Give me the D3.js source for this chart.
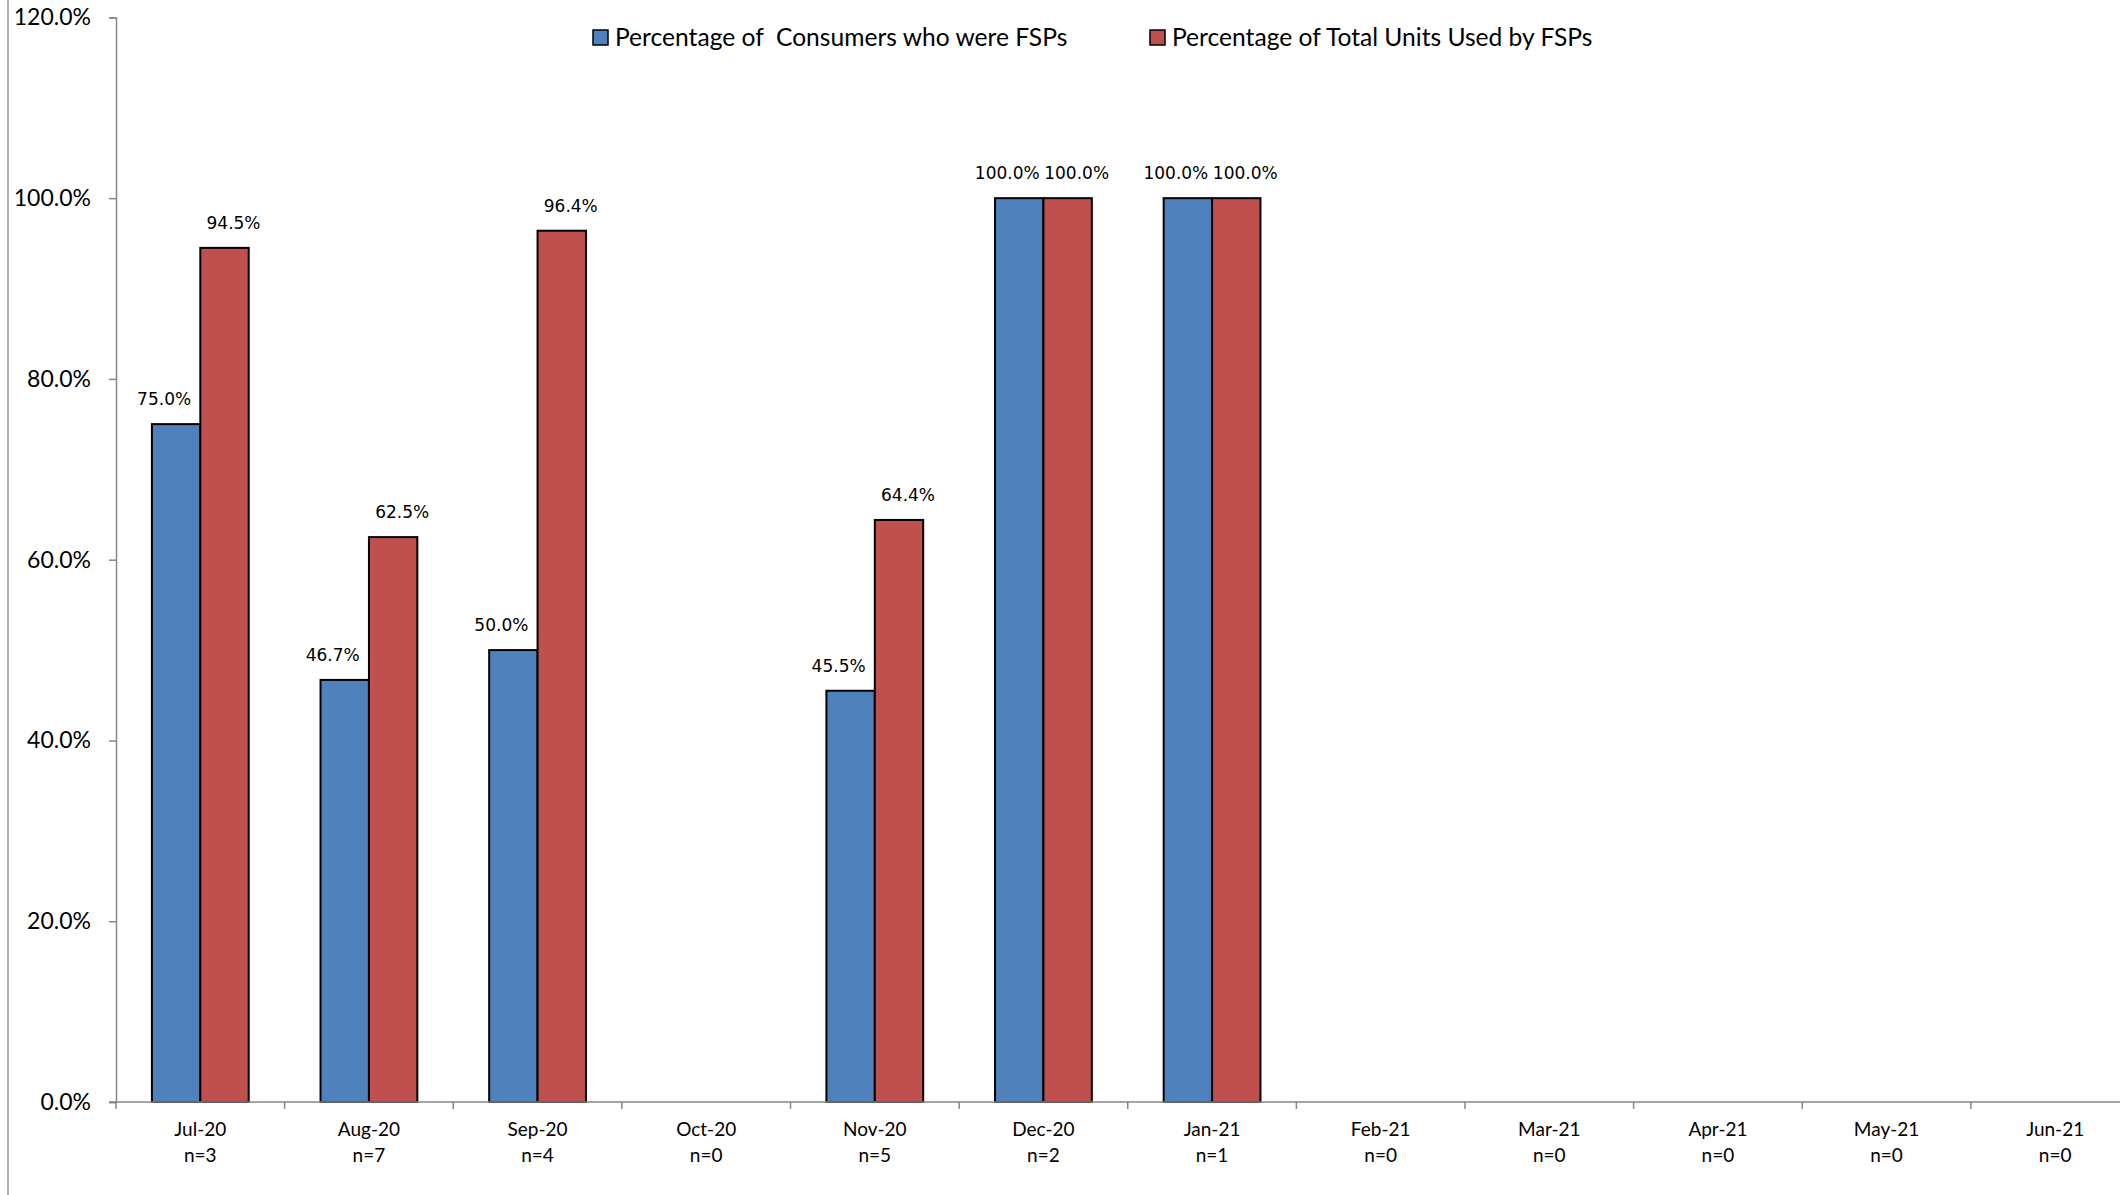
<!DOCTYPE html>
<html>
<head>
<meta charset="utf-8">
<script src="https://cdn.jsdelivr.net/npm/d3@7"></script>
<style>
  html, body { margin: 0; padding: 0; background: #fff; overflow: hidden; }
  svg { display: block; }
</style>
</head>
<body>
<svg id="chart" width="2120" height="1195"></svg>
<script>
// ---- data ----
const categories = ["Jul-20","Aug-20","Sep-20","Oct-20","Nov-20","Dec-20","Jan-21","Feb-21","Mar-21","Apr-21","May-21","Jun-21"];
const nLabels = ["n=3","n=7","n=4","n=0","n=5","n=2","n=1","n=0","n=0","n=0","n=0","n=0"];
const seriesNames = ["Percentage of  Consumers who were FSPs", "Percentage of Total Units Used by FSPs"];
const consumersPct = [75.0, 46.7, 50.0, null, 45.5, 100.0, 100.0, null, null, null, null, null];
const unitsPct = [94.5, 62.5, 96.4, null, 64.4, 100.0, 100.0, null, null, null, null, null];
const yTicks = [0, 0.2, 0.4, 0.6, 0.8, 1.0, 1.2];
const colors = ["#4F81BD", "#C0504D"];

// ---- layout ----
const svg = d3.select("#chart");
const axisColor = "#868686";
const catFont = "Lato, 'Open Sans', sans-serif";

const y = d3.scaleLinear().domain([0, 1.2]).range([1102, 17.4]);
const x = d3.scaleBand().domain(categories).range([116, 2139.5]).padding(0);
const bw = x.bandwidth();
const xs = d3.scaleBand().domain([0, 1]).range([bw * 0.213, bw * 0.787]).padding(0);

// left frame line
svg.append("line").attr("x1", 8).attr("x2", 8).attr("y1", 0).attr("y2", 1195)
  .attr("stroke", "#999").attr("stroke-width", 1.5);

// y axis
const yAxis = svg.append("g").attr("transform", "translate(116,0)")
  .call(d3.axisLeft(y).tickValues(yTicks).tickFormat(d3.format(".1%")).tickSize(7).tickPadding(18));
yAxis.select(".domain").attr("stroke", axisColor).attr("stroke-width", 1.5);
yAxis.selectAll(".tick line").attr("stroke", axisColor).attr("stroke-width", 1.5);
yAxis.selectAll(".tick text").attr("fill", "#000").style("font-family", catFont).style("font-size", "23px");

// bars
const series = [consumersPct, unitsPct];
series.forEach((vals, si) => {
  const data = categories.map((c, i) => ({ c, v: vals[i] })).filter(d => d.v !== null);
  svg.append("g").selectAll("rect").data(data).join("rect")
    .attr("x", d => x(d.c) + xs(si))
    .attr("width", xs.bandwidth())
    .attr("y", d => y(d.v / 100))
    .attr("height", d => y(0) - y(d.v / 100))
    .attr("fill", colors[si])
    .attr("stroke", "#000")
    .attr("stroke-width", 2);
  const off = si === 0 ? -12 : 9;
  svg.append("g").selectAll("text").data(data).join("text")
    .attr("x", d => x(d.c) + xs(si) + xs.bandwidth() / 2 + off)
    .attr("y", d => y(d.v / 100) - 19)
    .attr("text-anchor", "middle")
    .style("font-family", "'DejaVu Sans', sans-serif")
    .style("font-size", "17px")
    .attr("fill", "#000")
    .text(d => d.v.toFixed(1) + "%");
});

// x axis
const xAxisG = svg.append("g");
xAxisG.append("line").attr("x1", 109).attr("x2", 2139.5).attr("y1", y(0)).attr("y2", y(0))
  .attr("stroke", axisColor).attr("stroke-width", 1.5);
const bounds = categories.map(c => x(c)).concat([x(categories[categories.length - 1]) + bw]);
xAxisG.selectAll("line.tk").data(bounds).join("line").attr("class", "tk")
  .attr("x1", d => d).attr("x2", d => d).attr("y1", y(0)).attr("y2", y(0) + 7)
  .attr("stroke", axisColor).attr("stroke-width", 1.5);
const lab = xAxisG.selectAll("text").data(categories).join("text")
  .attr("text-anchor", "middle")
  .style("font-family", catFont).style("font-size", "19px").attr("fill", "#000");
lab.append("tspan").attr("x", d => x(d) + bw / 2).attr("y", y(0) + 34).text(d => d);
lab.append("tspan").attr("x", d => x(d) + bw / 2).attr("y", y(0) + 60).text((d, i) => nLabels[i]);

// legend
const legendX = [593, 1150];
const lg = svg.append("g");
seriesNames.forEach((name, i) => {
  lg.append("rect").attr("x", legendX[i]).attr("y", 30).attr("width", 15).attr("height", 15)
    .attr("fill", colors[i]).attr("stroke", "#000").attr("stroke-width", 1.5);
  lg.append("text").attr("x", legendX[i] + 22).attr("y", 46)
    .style("font-family", catFont).style("font-size", "24.6px").style("white-space", "pre")
    .attr("fill", "#000").text(name);
});
</script>
</body>
</html>
